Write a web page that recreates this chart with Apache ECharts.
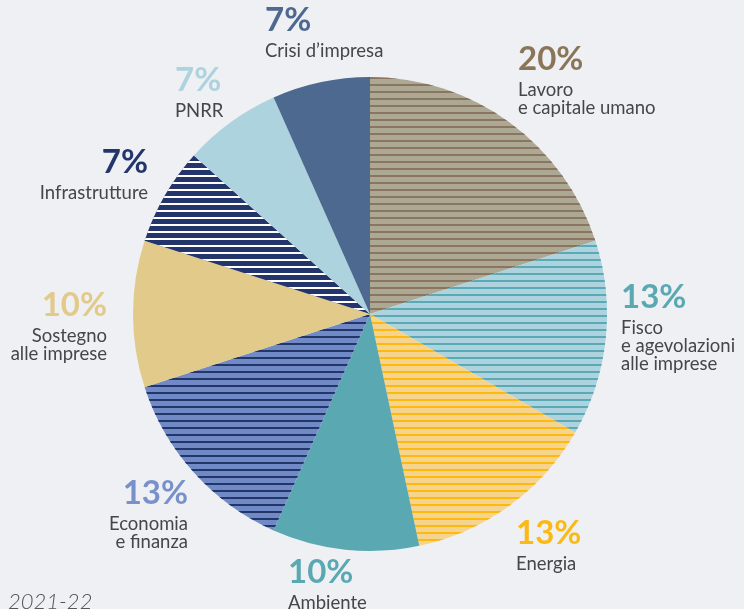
<!DOCTYPE html>
<html>
<head>
<meta charset="utf-8">
<script src="https://cdn.jsdelivr.net/npm/echarts@6/dist/echarts.min.js"></script>
<style>
  html, body { margin: 0; padding: 0; background: #eef0f4; }
  #main { width: 744px; height: 609px; }
</style>
</head>
<body>
<div id="main"></div>
<script>
// categories (clockwise from top)
const names = [
  'Lavoro\ne capitale umano',
  'Fisco\ne agevolazioni\nalle imprese',
  'Energia',
  'Ambiente',
  'Economia\ne finanza',
  'Sostegno\nalle imprese',
  'Infrastrutture',
  'PNRR',
  'Crisi d\u2019impresa',
]
// number of items per category
const counts = [6, 4, 4, 3, 4, 3, 2, 2, 2]

// styles
const fills = ['#aca893', '#acd3de', '#f7d48c', '#5aa8b1', '#6f8ac6', '#e2ca8a', '#24356b', '#add3df', '#4e6990']
const stripes = ['#8a7560', '#5aa9b4', '#fbb912', null, '#243568', null, '#ffffff', null, null]
const pctColors = ['#8b7558', '#5aa9b2', '#fbb914', '#5aa9b2', '#7891cb', '#e2ca8a', '#24356b', '#add3df', '#4e6990']
// label anchor [x, y, align]
const labelPos = [
  [518, 38, 'left'],
  [621, 276, 'left'],
  [516, 512, 'left'],
  [288, 551, 'left'],
  [188, 472, 'right'],
  [107, 284, 'right'],
  [148, 141, 'right'],
  [175, 59, 'left'],
  [265, -1, 'left'],
]

const chart = echarts.init(document.getElementById('main'))
const seriesData = names.map((n, i) => {
  const item = {
    name: n,
    value: counts[i],
    itemStyle: { color: fills[i] },
    label: {
      rich: {
        p: { fontSize: 33, fontWeight: 'bold', lineHeight: 43, color: pctColors[i], fontFamily: 'Lato' },
        n: { fontSize: 18.5, lineHeight: 18, color: '#464646', fontFamily: 'Lato', fontWeight: 'normal' },
      },
    },
  }
  if (stripes[i]) {
    item.itemStyle.decal = {
      symbol: 'rect',
      symbolSize: 1,
      color: stripes[i],
      dashArrayX: [1, 0],
      dashArrayY: [2, 4.3],
      rotation: 0,
    }
  }
  return item
})

chart.setOption({
  backgroundColor: '#eef0f4',
  animation: false,
  graphic: [
    {
      type: 'text',
      left: 8,
      top: 591,
      style: { text: '2021-22', font: 'italic 300 22px Lato', fill: '#555555' },
    },
  ],
  series: [
    {
      type: 'pie',
      center: [370, 314],
      radius: [0, 237],
      startAngle: 90,
      clockwise: true,
      percentPrecision: 0,
      avoidLabelOverlap: false,
      itemStyle: { borderWidth: 0 },
      label: {
        show: true,
        position: 'outside',
        formatter: '{p|{d}%}\n{n|{b}}',
      },
      labelLine: { show: false },
      labelLayout: (params) => {
        const p = labelPos[params.dataIndex]
        return { x: p[0], y: p[1], align: p[2], verticalAlign: 'top' }
      },
      emphasis: { disabled: true },
      data: seriesData,
    },
  ],
})
</script>
</body>
</html>
